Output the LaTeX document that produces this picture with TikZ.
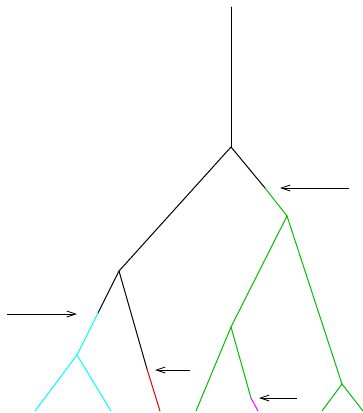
\documentclass[tikz,border=0pt]{standalone}
\usetikzlibrary{arrows.meta}
\definecolor{treegreen}{RGB}{0,190,0}
\definecolor{treecyan}{RGB}{0,255,255}
\definecolor{treered}{RGB}{230,0,0}
\definecolor{treemagenta}{RGB}{255,0,255}
\begin{document}
\begin{tikzpicture}[
    x=1pt, y=-1pt,
    edge/.style={line width=1pt, line cap=round},
    mark1/.style={edge, treegreen},
    mark2/.style={edge, treecyan},
    mark3/.style={edge, treered},
    mark4/.style={edge, treemagenta},
    pointer/.style={line width=0.8pt, -{Straight Barb[length=9pt,width=6pt]}},
  ]
    \useasboundingbox (0,0) rectangle (363,413);

    % Tree nodes -------------------------------------------------------------
    \coordinate (top)   at (231,7);
    \coordinate (root)  at (231,147);
    \coordinate (left)  at (119,271);
    \coordinate (right) at (287,216);
    \coordinate (lc)    at (77,355);
    \coordinate (rl)    at (231,327);
    \coordinate (rr)    at (342,384);

    % Leaves -----------------------------------------------------------------
    \coordinate (l1) at (35,411);
    \coordinate (l2) at (111,411);
    \coordinate (l3) at (160,411);
    \coordinate (l4) at (196,411);
    \coordinate (l5) at (258,411);
    \coordinate (l6) at (322,411);
    \coordinate (l7) at (363,411);

    % Colour changes ---------------------------------------------------------
    \coordinate (cr) at (265,188);
    \coordinate (cl) at (98,313);
    \coordinate (cd) at (147,369);
    \coordinate (cm) at (251,398);

    % Black part -------------------------------------------------------------
    \draw[edge] (top) -- (root);
    \draw[edge] (root) -- (left);
    \draw[edge] (root) -- (cr);
    \draw[edge] (left) -- (cl);
    \draw[edge] (left) -- (cd);

    % Coloured parts ---------------------------------------------------------
    \draw[mark1] (cr) -- (right);
    \draw[mark1] (right) -- (rl);
    \draw[mark1] (right) -- (rr);
    \draw[mark1] (rl) -- (l4);
    \draw[mark1] (rl) -- (cm);
    \draw[mark1] (rr) -- (l6);
    \draw[mark1] (rr) -- (l7);
    \draw[mark2] (cl) -- (lc);
    \draw[mark2] (lc) -- (l1);
    \draw[mark2] (lc) -- (l2);
    \draw[mark3] (cd) -- (l3);
    \draw[mark4] (cm) -- (l5);

    % Arrows -----------------------------------------------------------------
    \coordinate (a1s) at (349,188); \coordinate (a1e) at (280,188);
    \coordinate (a2s) at (7,314);   \coordinate (a2e) at (77,314);
    \coordinate (a3s) at (190,370); \coordinate (a3e) at (155,370);
    \coordinate (a4s) at (297,398); \coordinate (a4e) at (259,398);
    \draw[pointer] (a1s) -- (a1e);
    \draw[pointer] (a2s) -- (a2e);
    \draw[pointer] (a3s) -- (a3e);
    \draw[pointer] (a4s) -- (a4e);
  \end{tikzpicture}
\end{document}
